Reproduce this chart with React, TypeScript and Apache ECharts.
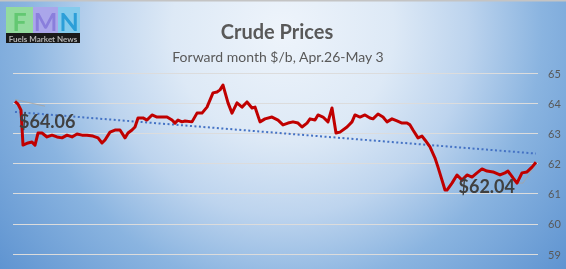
import React, { useEffect, useRef } from "react";
import * as echarts from "echarts";

// Trading-time index (position along the week) for each quote
const timeIdx = [
  0, 3, 6, 8, 13, 17, 20, 23, 27, 32,
  37, 42, 47, 52, 57, 62, 67, 72, 78, 83,
  87, 90, 95, 100, 105, 110, 113, 117, 120, 123,
  128, 132, 137, 142, 147, 152, 157, 160, 163, 167,
  170, 177, 182, 187, 192, 198, 202, 205, 208, 213,
  217, 222, 227, 232, 237, 240, 245, 250, 257, 263,
  268, 273, 278, 283, 287, 292, 295, 300, 303, 308,
  313, 317, 321, 325, 332, 337, 340, 345, 350, 355,
  358, 363, 368, 372, 377, 382, 387, 392, 395, 398,
  403, 407, 410, 415, 420, 423, 427, 430, 432, 437,
  442, 447, 452, 457, 462, 467, 472, 478, 485, 490,
  493, 498, 502, 507, 512, 517, 521,
];

// Crude price, $/b
const prices = [
  64.06, 63.97, 63.77, 62.61, 62.68, 62.71, 62.61, 63.01, 63.01, 62.88,
  62.94, 62.88, 62.85, 62.94, 62.88, 62.98, 62.94, 62.94, 62.91, 62.85,
  62.68, 62.78, 63.04, 63.11, 63.11, 62.85, 63.01, 63.11, 63.21, 63.51,
  63.51, 63.44, 63.61, 63.54, 63.54, 63.54, 63.44, 63.34, 63.44, 63.38,
  63.41, 63.38, 63.67, 63.67, 63.87, 64.34, 64.37, 64.44, 64.6, 64.01,
  63.67, 64.01, 63.87, 64.04, 63.84, 63.87, 63.38, 63.48, 63.54, 63.44,
  63.28, 63.34, 63.38, 63.34, 63.21, 63.34, 63.48, 63.44, 63.61, 63.54,
  63.38, 63.84, 63.01, 63.04, 63.21, 63.38, 63.61, 63.54, 63.61, 63.51,
  63.48, 63.64, 63.54, 63.38, 63.48, 63.41, 63.34, 63.34, 63.28, 63.11,
  62.85, 62.91, 62.78, 62.55, 62.18, 61.88, 61.45, 61.12, 61.12, 61.35,
  61.62, 61.45, 61.62, 61.55, 61.69, 61.82, 61.75, 61.72, 61.62, 61.69,
  61.75, 61.52, 61.35, 61.69, 61.72, 61.88, 62.04,
];

// Linear trend line end points
const trendIdx = [0, 521];
const trendVals = [63.71, 62.33];

// Faint grey companion line (visible only at both ends)
const shadowIdx = [0, 30, null, 500, 508, 521];
const shadowVals = [64.12, 63.9, null, 61.35, 61.35, 61.98];

const yTicks = { min: 59, max: 65, interval: 1 };

const TITLE = "Crude Prices";
const SUBTITLE = "Forward month $/b, Apr.26-May 3";
const LOGO_LETTERS = ["F", "M", "N"];
const LOGO_TAG = "Fuels Market News";

export default function App() {
  const ref = useRef<HTMLDivElement>(null);

  useEffect(() => {
    if (!ref.current) return;
    const chart = echarts.init(ref.current, undefined, { renderer: "svg" });

    const mainData = timeIdx.map((t, i) => [t, prices[i]]);
    const trendData = trendIdx.map((t, i) => [t, trendVals[i]]);
    const shadowData = shadowIdx.map((t, i) =>
      t === null ? "-" : [t, shadowVals[i]]
    );
    const last = prices.length - 1;
    const font = "Lato, 'Open Sans', sans-serif";

    chart.setOption({
      animation: false,
      backgroundColor: new echarts.graphic.RadialGradient(
        283,
        30,
        370,
        [
          { offset: 0, color: "#eef4fb" },
          { offset: 0.3, color: "#dde9f6" },
          { offset: 0.5, color: "#bdd4ee" },
          { offset: 0.7, color: "#8ab4e0" },
          { offset: 1, color: "#5f94d1" },
        ],
        true
      ),
      title: [
        {
          text: TITLE,
          left: 272,
          top: 16,
          textAlign: "center",
          textStyle: { fontFamily: font, fontSize: 20, fontWeight: "bold", color: "#595959" },
        },
        {
          text: SUBTITLE,
          left: 273,
          top: 44,
          textAlign: "center",
          textStyle: { fontFamily: font, fontSize: 14, fontWeight: "normal", color: "#595959" },
        },
      ],
      graphic: [
        { type: "rect", left: 0, top: 0, shape: { width: 566, height: 1.5 }, style: { fill: "#c4c4c4" } },
        {
          type: "group",
          left: 6,
          top: 7,
          children: [
            { type: "rect", shape: { x: 0, y: 0, width: 27, height: 26 }, style: { fill: "#93db9e" } },
            { type: "rect", shape: { x: 27, y: 0, width: 25, height: 26 }, style: { fill: "#aaa6ea" } },
            { type: "rect", shape: { x: 52, y: 0, width: 22, height: 26 }, style: { fill: "#84cbec" } },
            {
              type: "text",
              x: 13.5,
              y: 14,
              style: { text: LOGO_LETTERS[0], fontFamily: font, fontSize: 25, fontWeight: "bold", fill: "#63c872", align: "center", verticalAlign: "middle" },
            },
            {
              type: "text",
              x: 39.5,
              y: 14,
              style: { text: LOGO_LETTERS[1], fontFamily: font, fontSize: 25, fontWeight: "bold", fill: "#8a7fdc", align: "center", verticalAlign: "middle" },
            },
            {
              type: "text",
              x: 63,
              y: 14,
              style: { text: LOGO_LETTERS[2], fontFamily: font, fontSize: 25, fontWeight: "bold", fill: "#2c9fd8", align: "center", verticalAlign: "middle" },
            },
            { type: "rect", shape: { x: 0, y: 26, width: 74, height: 10 }, style: { fill: "#1a1a1a" } },
            {
              type: "text",
              x: 37,
              y: 31.5,
              style: { text: LOGO_TAG, fontFamily: font, fontSize: 8, fontWeight: "bold", fill: "#b5b5b5", align: "center", verticalAlign: "middle" },
            },
          ],
        },
      ],
      grid: { left: 13, right: 28, top: 73, bottom: 15, containLabel: false },
      xAxis: {
        type: "value",
        min: -2,
        max: 523,
        show: false,
        splitLine: { show: false },
      },
      yAxis: {
        type: "value",
        position: "right",
        min: yTicks.min,
        max: yTicks.max,
        interval: yTicks.interval,
        axisLine: { show: false },
        axisTick: { show: false },
        axisLabel: { color: "#595959", fontSize: 11, fontFamily: font, margin: 10 },
        splitLine: { lineStyle: { color: "#dcdcdc", width: 1 } },
      },
      series: [
        {
          type: "line",
          data: shadowData,
          symbol: "none",
          connectNulls: false,
          lineStyle: { color: "rgba(165,165,165,0.85)", width: 1 },
          z: 1,
        },
        {
          type: "line",
          data: trendData,
          symbol: "none",
          lineStyle: { color: "#4472c4", width: 2, type: [2, 2.5] },
          z: 2,
        },
        {
          type: "line",
          data: mainData,
          symbol: "none",
          lineStyle: { color: "#c00000", width: 3, join: "round" },
          z: 3,
          markPoint: {
            symbol: "circle",
            symbolSize: 0,
            label: {
              show: true,
              fontFamily: font,
              fontSize: 18,
              fontWeight: "bold",
              color: "#404040",
              formatter: (p: any) => "$" + Number(p.value).toFixed(2),
            },
            data: [
              {
                coord: [timeIdx[0], prices[0]],
                value: prices[0],
                label: { position: "inside", align: "left", verticalAlign: "middle", offset: [4, 20] },
              },
              {
                coord: [timeIdx[last], prices[last]],
                value: prices[last],
                label: { position: "inside", align: "right", verticalAlign: "middle", offset: [-21, 24] },
              },
            ],
          },
        },
      ],
    });

    return () => chart.dispose();
  }, []);

  return (
    <div
      ref={ref}
      style={{ position: "fixed", left: 0, top: 0, width: 566, height: 269 }}
    />
  );
}
